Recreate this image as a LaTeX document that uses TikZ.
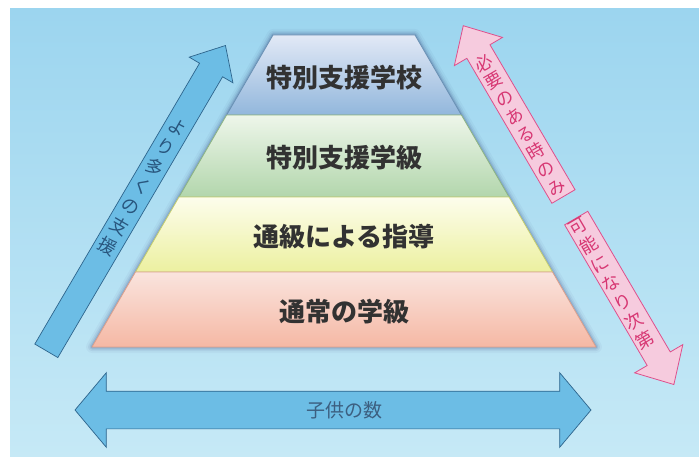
\documentclass[tikz,border=0pt]{standalone}
\usepackage{fontspec}
\setmainfont{Noto Sans CJK JP}
\usetikzlibrary{shapes.arrows}
\definecolor{bgtop}{RGB}{156,213,239}
\definecolor{bgbot}{RGB}{198,233,246}
\definecolor{arrowblue}{RGB}{108,189,229}
\definecolor{arrowline}{RGB}{45,100,140}
\definecolor{bluetext}{RGB}{40,85,125}
\definecolor{bottomtext}{RGB}{60,95,128}
\definecolor{pinkfill}{RGB}{246,203,222}
\definecolor{pinkline}{RGB}{222,80,140}
\definecolor{pinktext}{RGB}{215,55,115}
\definecolor{bAtop}{RGB}{226,233,246}
\definecolor{bAbot}{RGB}{146,183,220}
\definecolor{bAline}{RGB}{105,145,180}
\definecolor{bBtop}{RGB}{238,246,234}
\definecolor{bBbot}{RGB}{178,214,172}
\definecolor{bBline}{RGB}{140,180,130}
\definecolor{bCtop}{RGB}{253,253,236}
\definecolor{bCbot}{RGB}{236,240,160}
\definecolor{bCline}{RGB}{195,205,110}
\definecolor{bDtop}{RGB}{250,228,222}
\definecolor{bDbot}{RGB}{245,184,164}
\definecolor{bDline}{RGB}{220,160,140}
\definecolor{pyrtextcol}{RGB}{50,50,50}
\begin{document}
\begin{tikzpicture}[x=1pt,y=-1pt,
  bluearrow/.style={fill=arrowblue, draw=arrowline, line width=0.7pt, outer sep=0pt},
  pinkarrow/.style={single arrow, fill=pinkfill, draw=pinkline, line width=0.8pt,
    inner xsep=0pt, inner ysep=13pt, outer sep=0pt,
    single arrow head extend=14.5pt, single arrow tip angle=86},
  pyrtext/.style={font=\fontsize{26}{30}\selectfont\bfseries, text=pyrtextcol},
  coltext/.style={align=center, inner sep=0pt},
  band/.style={line width=0.8pt, line join=round}
]
\useasboundingbox (0,0) rectangle (699,457);
\fill[white] (0,0) rectangle (699,457);
\shade[top color=bgtop, bottom color=bgbot] (10,9) rectangle (699,457);

% pyramid glow shadow
\foreach \w/\o in {12/0.03,8/0.05,5/0.07,2.5/0.1}
  \draw[line width=\w pt, draw=black!70!blue, opacity=\o, line join=round]
    (273,35) -- (415,35) -- (596,347) -- (92,347) -- cycle;

% pyramid bands
\shadedraw[band, top color=bAtop, bottom color=bAbot, draw=bAline]
  (273,35) -- (415,35) -- (461.4,115) -- (226.6,115) -- cycle;
\shadedraw[band, top color=bBtop, bottom color=bBbot, draw=bBline]
  (226.6,115) -- (461.4,115) -- (509,197) -- (179,197) -- cycle;
\shadedraw[band, top color=bCtop, bottom color=bCbot, draw=bCline]
  (179,197) -- (509,197) -- (552.5,272) -- (135.5,272) -- cycle;
\shadedraw[band, top color=bDtop, bottom color=bDbot, draw=bDline]
  (135.5,272) -- (552.5,272) -- (596,347) -- (92,347) -- cycle;

\node[pyrtext] (t1) at (344,78) {特別支援学校};
\node[pyrtext] (t2) at (344,158) {特別支援学級};
\node[pyrtext] (t3) at (344,237) {通級による指導};
\node[pyrtext] (t4) at (344,312) {通常の学級};

% left arrow
\node[single arrow, bluearrow, inner xsep=0pt, inner ysep=13pt, minimum height=354pt,
  single arrow head extend=12pt, single arrow tip angle=83.5, rotate=59.6]
  (la) at (132.1,204.6) {};
\node[coltext, rotate=-30.4, text=bluetext, font=\fontsize{18}{23}\selectfont]
  (lt) at (142.5,187) {よ\\り\\多\\く\\の\\支\\援};

% right pink arrows
\node[pinkarrow, minimum height=198pt, rotate=120.4] (pa) at (517,117.3) {};
\node[pinkarrow, minimum height=193pt, rotate=-59.6] (pb) at (621.4,295.1) {};
\node[coltext, rotate=30.4, text=pinktext, font=\fontsize{17.5}{20.6}\selectfont]
  (pat) at (520,125) {必\\要\\の\\あ\\る\\時\\の\\み};
\node[coltext, rotate=30.4, text=pinktext, font=\fontsize{18}{22}\selectfont]
  (pbt) at (611.5,283.5) {可\\能\\に\\な\\り\\次\\第};

% bottom arrow
\node[double arrow, bluearrow, inner xsep=0pt, inner ysep=18.5pt, minimum height=516pt,
  double arrow head extend=18.5pt, double arrow tip angle=100]
  (ba) at (333,410) {};
\node[text=bottomtext, font=\fontsize{19}{22}\selectfont] (bt) at (344,410) {子供の数};
\end{tikzpicture}
\end{document}
